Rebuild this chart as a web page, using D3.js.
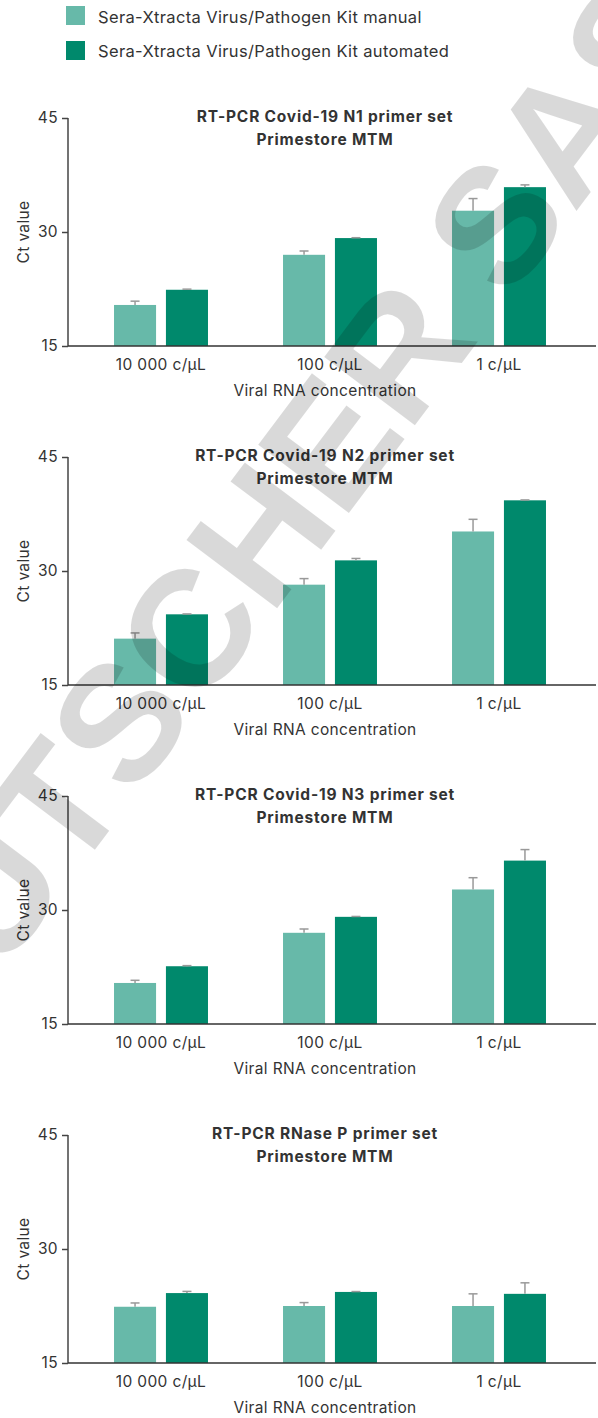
<!DOCTYPE html>
<html>
<head>
<meta charset="utf-8">
<script src="https://cdn.jsdelivr.net/npm/d3@7"></script>
<style>
  body { margin: 0; background: #fff; }
  text { font-family: Inter, "Noto Sans", sans-serif; fill: #333; letter-spacing: 0.35px; }
</style>
</head>
<body>
<svg id="dessin" width="598" height="1418"></svg>
<script>
// données
const categories = ["10 000 c/µL", "100 c/µL", "1 c/µL"];
const series = ["Sera-Xtracta Virus/Pathogen Kit manual", "Sera-Xtracta Virus/Pathogen Kit automated"];
const colors = ["#67b9a9", "#00896c"];
const titles = ["RT-PCR Covid-19 N1 primer set", "RT-PCR Covid-19 N2 primer set", "RT-PCR Covid-19 N3 primer set", "RT-PCR RNase P primer set"];
const subtitle = "Primestore MTM";
const yTicks = [15, 30, 45];

const manual = [
    [20.4, 27.0, 32.8],
    [21.1, 28.2, 35.2],
    [20.4, 27.0, 32.7],
    [22.4, 22.5, 22.5]
];
const manualErr = [
    [0.5, 0.5, 1.6],
    [0.75, 0.8, 1.6],
    [0.35, 0.5, 1.55],
    [0.5, 0.45, 1.6]
];
const automated = [
    [22.4, 29.2, 35.9],
    [24.3, 31.4, 39.3],
    [22.6, 29.1, 36.5],
    [24.2, 24.35, 24.1]
];
const automatedErr = [
    [0.08, 0.05, 0.3],
    [0.05, 0.25, 0.05],
    [0.08, 0.05, 1.45],
    [0.22, 0.05, 1.45]
];

const svg = d3.select("#dessin");
const fs = "15.5px";

// légende
const legend = svg.append("g");
series.forEach((s, i) => {
    legend.append("rect")
        .attr("x", 66).attr("y", 6 + i * 35)
        .attr("width", 19).attr("height", 19)
        .attr("fill", colors[i]);
    legend.append("text")
        .attr("x", 98).attr("y", 22.5 + i * 34.5)
        .style("font-size", "16.5px")
        .text(s);
});

const axisX = 68;
const panelH = 228;

const x0 = d3.scaleBand().domain(categories).range([76.5, 583.5]).paddingInner(0.444).paddingOuter(0.222);
const x1 = d3.scaleBand().domain(series).range([0, x0.bandwidth()]).paddingInner(0.19);
const y = d3.scaleLinear().domain([15, 45]).range([panelH, 0]);

titles.forEach((t, p) => {
    const g = svg.append("g").attr("transform", `translate(0,${118 + p * 339})`);

    const rows = categories.map((c, i) => ({
        cat: c,
        vals: [
            { s: series[0], v: manual[p][i], e: manualErr[p][i], col: colors[0] },
            { s: series[1], v: automated[p][i], e: automatedErr[p][i], col: colors[1] }
        ]
    }));

    const grp = g.selectAll(".grp")
        .data(rows)
        .enter()
        .append("g")
        .attr("class", "grp")
        .attr("transform", d => `translate(${x0(d.cat)},0)`);

    grp.selectAll("rect")
        .data(d => d.vals)
        .enter()
        .append("rect")
        .attr("x", d => x1(d.s))
        .attr("width", x1.bandwidth())
        .attr("y", d => y(d.v))
        .attr("height", d => y(15) - y(d.v))
        .attr("fill", d => d.col);

    // barres d'erreur
    const eb = grp.selectAll(".err")
        .data(d => d.vals)
        .enter()
        .append("g")
        .attr("class", "err")
        .style("stroke", "#999")
        .style("stroke-width", 1.5);
    eb.append("line")
        .attr("x1", d => x1(d.s) + x1.bandwidth() / 2)
        .attr("x2", d => x1(d.s) + x1.bandwidth() / 2)
        .attr("y1", d => y(d.v))
        .attr("y2", d => y(d.v + d.e));
    eb.append("line")
        .attr("x1", d => x1(d.s) + x1.bandwidth() / 2 - 4.5)
        .attr("x2", d => x1(d.s) + x1.bandwidth() / 2 + 4.5)
        .attr("y1", d => y(d.v + d.e))
        .attr("y2", d => y(d.v + d.e));

    // axe y
    const ay = g.append("g")
        .attr("transform", `translate(${axisX},0)`)
        .call(d3.axisLeft(y).tickValues(yTicks).tickSize(6).tickPadding(4));
    ay.select(".domain").attr("d", `M0,${panelH}V0`).style("stroke", "#444").style("stroke-width", 1.5);
    ay.selectAll(".tick line").style("stroke", "#444").style("stroke-width", 1.5);
    ay.selectAll(".tick text").style("font-size", fs).style("font-family", "Inter, sans-serif").attr("fill", "#333");

    // axe x
    g.append("line")
        .attr("x1", axisX).attr("x2", 596)
        .attr("y1", panelH).attr("y2", panelH)
        .style("stroke", "#333").style("stroke-width", 1.5);

    g.selectAll(".xl")
        .data(categories)
        .enter()
        .append("text")
        .attr("class", "xl")
        .attr("x", d => x0(d) + x0.bandwidth() / 2)
        .attr("y", panelH + 24)
        .attr("text-anchor", "middle")
        .style("font-size", fs)
        .text(d => d);

    g.append("text")
        .attr("x", 325).attr("y", panelH + 50)
        .attr("text-anchor", "middle")
        .style("font-size", fs)
        .text("Viral RNA concentration");

    g.append("text")
        .attr("transform", `translate(29,${panelH / 2}) rotate(-90)`)
        .attr("text-anchor", "middle")
        .style("font-size", fs)
        .text("Ct value");

    g.append("text")
        .attr("x", 325).attr("y", 4)
        .attr("text-anchor", "middle")
        .style("font-size", fs).style("font-weight", "700").style("letter-spacing", "0.8px")
        .text(t);
    g.append("text")
        .attr("x", 325).attr("y", 27)
        .attr("text-anchor", "middle")
        .style("font-size", fs).style("font-weight", "700").style("letter-spacing", "0.8px")
        .text(subtitle);
});

// filigrane
svg.append("text")
    .attr("transform", "translate(287,595) rotate(-53)")
    .attr("text-anchor", "middle")
    .style("font-family", "'Liberation Sans', Arial, sans-serif")
    .style("font-weight", "700")
    .style("font-size", "165px")
    .style("letter-spacing", "0px")
    .style("fill", "#000")
    .style("fill-opacity", 0.15)
    .text("DEUTSCHER SAS");
</script>
</body>
</html>
